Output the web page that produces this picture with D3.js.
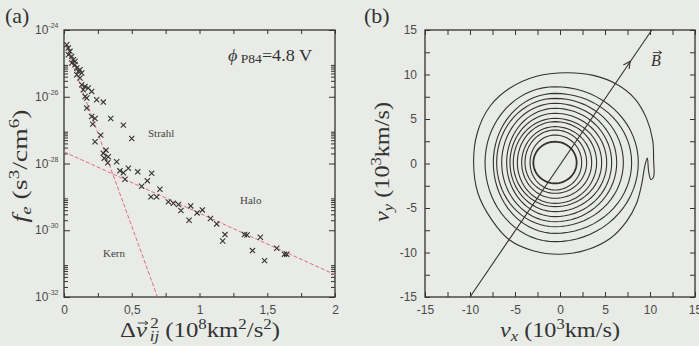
<!DOCTYPE html>
<html>
<head>
<meta charset="utf-8">
<script src="https://cdn.jsdelivr.net/npm/d3@7"></script>
<style>
body { margin: 0; background: #e8ebe6; }
svg { display: block; }
</style>
</head>
<body>
<script>
// ---- panel (a): f_e against delta v^2 ----
var dv2 = [0.020, 0.032, 0.044, 0.032, 0.057, 0.069, 0.081, 0.057, 0.081, 0.094,
    0.118, 0.106, 0.131, 0.094, 0.118, 0.131, 0.155, 0.179, 0.142, 0.204,
    0.155, 0.168, 0.241, 0.290, 0.168, 0.204, 0.229, 0.212, 0.345, 0.438,
    0.271, 0.500, 0.229, 0.310, 0.290, 0.327, 0.297, 0.323, 0.389, 0.413,
    0.475, 0.438, 0.544, 0.647, 0.450, 0.615, 0.573, 0.708, 0.642, 0.684,
    0.770, 0.807, 0.845, 0.863, 0.935, 0.923, 0.982, 1.021, 1.081, 1.127,
    1.188, 1.171, 1.332, 1.351, 1.449, 1.391, 1.570, 1.480, 1.627, 1.644];
var logFe = [-24.44, -24.54, -24.64, -24.74, -24.79, -24.89, -24.94, -24.99, -25.04, -25.14,
    -25.19, -25.24, -25.29, -25.34, -25.44, -25.64, -25.69, -25.74, -25.79, -25.84,
    -25.99, -26.04, -26.09, -26.16, -26.34, -26.59, -26.65, -26.82, -26.65, -26.85,
    -27.15, -27.25, -27.35, -27.60, -27.69, -27.80, -27.84, -27.98, -27.95, -28.22,
    -28.14, -28.28, -28.25, -28.29, -28.47, -28.52, -28.68, -28.77, -29.00, -29.00,
    -29.15, -29.19, -29.23, -29.41, -29.27, -29.70, -29.48, -29.39, -29.65, -29.81,
    -30.13, -30.32, -30.13, -30.14, -30.21, -30.61, -30.54, -30.91, -30.72, -30.72];
var kernX = [0, 0.69], kernLog = [-24.3, -32];
var haloX = [0, 2], haloLog = [-27.65, -31.33];
var xTicksA = [0, 0.5, 1, 1.5, 2];
var xMinorA = [0.25, 0.75, 1.25, 1.75];
var yExpA = [-24, -26, -28, -30, -32];
var yMinorMant = [2, 3, 4, 5, 6, 7, 8, 9];
var yMinorExp = [-26, -28, -30, -32];

// ---- panel (b): contours of the velocity distribution ----
var outerVx = [0.7, 3.7, 6.3, 8.3, 9.6, 10.3, 10.4, 10.4, 10.1, 9.85, 9.7, 9.4, 9.1, 8.5,
    7.4, 5.6, 3.0, 0, -3.0, -5.6, -7.6, -9.1, -9.6, -9.2, -7.8, -5.6, -2.6];
var outerVy = [10.2, 9.9, 8.9, 7.3, 5.1, 2.6, 0.4, -1.5, -1.8, -0.9, 0.6, -0.4, -2.2, -4.5,
    -6.5, -8.4, -9.7, -10.2, -9.8, -8.6, -6.3, -3.4, 0, 3.4, 6.4, 8.45, 9.8];
var contLeft = [-8.33, -7.41, -7.04, -6.48, -5.93, -5.56, -5.19, -4.74, -4.26, -3.89, -3.33, -2.96];
var contRight = [8.7, 7.96, 7.04, 6.3, 5.74, 5.19, 4.63, 4.07, 3.52, 2.96, 2.41, 1.85];
var contTop = [8.63, 7.88, 7.32, 6.76, 6.2, 5.64, 5.07, 4.7, 4.14, 3.76, 3.2, 2.45];
var contBottom = [-8.78, -7.85, -7.1, -6.54, -5.97, -5.41, -4.85, -4.48, -3.91, -3.35, -2.98, -2.23];
var contCenter = [-0.55, 0.1];
var bLineX = [-10, 10.2], bLineY = [-15, 15];
var bArrow = [7.8, 11.5];
var vTicks = [-15, -10, -5, 0, 5, 10, 15];
var vMinor = [-12.5, -7.5, -2.5, 2.5, 7.5, 12.5];

var W = 699, H = 346;
var ink = "#333";
var tickFont = "'Liberation Sans', Arial, sans-serif";
var serif = "'Liberation Serif', 'DejaVu Serif', serif";

var svg = d3.select("body").append("svg")
    .attr("width", W).attr("height", H);

function richText(sel, parts) {
    parts.forEach(function (p) {
        var t = sel.append("tspan").text(p.t);
        if (p.dy) t.attr("dy", p.dy);
        if (p.dx) t.attr("dx", p.dx);
        if (p.size) t.style("font-size", p.size + "px");
        if (p.italic) t.style("font-style", "italic");
    });
    return sel;
}

// small vector arrow over character i of a text element
function vecArrow(g, textSel, i, lift) {
    var n = textSel.node();
    var a = n.getStartPositionOfChar(i), b = n.getEndPositionOfChar(i);
    var x0 = a.x + 2, x1 = b.x + 1, y = a.y - lift;
    g.append("path").attr("d", "M" + x0 + "," + y + "L" + x1 + "," + y +
        "M" + (x1 - 3) + "," + (y - 2) + "L" + x1 + "," + y + "L" + (x1 - 3) + "," + (y + 2))
        .attr("fill", "none").attr("stroke", ink).attr("stroke-width", 0.9);
}

function tickAxis(g, axis, tx, ty) {
    var a = g.append("g").attr("transform", "translate(" + tx + "," + ty + ")").call(axis);
    a.select(".domain").remove();
    a.selectAll("line").attr("stroke", ink).attr("stroke-width", 1);
    a.selectAll("text").attr("fill", "#4a4a4a").style("font-family", tickFont).style("font-size", "12px");
    return a;
}

// ================= panel (a) =================
var ax0 = 64, ax1 = 335, ay0 = 30, ay1 = 297;
var xA = d3.scaleLinear().domain([0, 2]).range([ax0, ax1]);
var yA = d3.scaleLog().domain([1e-32, 1e-24]).range([ay1, ay0]);

var gA = svg.append("g");

var xAll = xTicksA.concat(xMinorA);
tickAxis(gA, d3.axisBottom(xA).tickValues(xAll).tickSize(-4).tickPadding(8)
    .tickFormat(function (d) { return xTicksA.indexOf(d) >= 0 ? String(d).replace(".", ",") : ""; }), 0, ay1);
tickAxis(gA, d3.axisTop(xA).tickValues(xAll).tickSize(-4).tickFormat(""), 0, ay0);

var yMaj = yExpA.map(function (e) { return Math.pow(10, e); });
var yMin = [];
yMinorExp.forEach(function (e) { yMinorMant.forEach(function (m) { yMin.push(m * Math.pow(10, e)); }); });
tickAxis(gA, d3.axisLeft(yA).tickValues(yMaj).tickSize(-6).tickFormat(""), ax0, 0);
tickAxis(gA, d3.axisLeft(yA).tickValues(yMin).tickSize(-4).tickFormat(""), ax0, 0);
tickAxis(gA, d3.axisRight(yA).tickValues(yMaj).tickSize(-6).tickFormat(""), ax1, 0);
tickAxis(gA, d3.axisRight(yA).tickValues(yMin).tickSize(-4).tickFormat(""), ax1, 0);

yExpA.forEach(function (e) {
    var t = gA.append("text").attr("x", 35).attr("y", yA(Math.pow(10, e)) + 4)
        .attr("fill", "#4a4a4a").style("font-family", tickFont).style("font-size", "12px");
    richText(t, [{ t: "10" }, { t: "-" + Math.abs(e), dy: -6, size: 7 }]);
});

gA.append("rect").attr("x", ax0).attr("y", ay0).attr("width", ax1 - ax0).attr("height", ay1 - ay0)
    .attr("fill", "none").attr("stroke", ink).attr("stroke-width", 1.3);

svg.append("clipPath").attr("id", "clipA").append("rect")
    .attr("x", ax0).attr("y", ay0).attr("width", ax1 - ax0).attr("height", ay1 - ay0);

var fitLine = d3.line().x(function (d) { return xA(d[0]); }).y(function (d) { return yA(Math.pow(10, d[1])); });
[[kernX, kernLog], [haloX, haloLog]].forEach(function (f) {
    gA.append("path").attr("clip-path", "url(#clipA)")
        .attr("d", fitLine(f[0].map(function (x, i) { return [x, f[1][i]]; })))
        .attr("fill", "none").attr("stroke", "#e36a80").attr("stroke-width", 1)
        .attr("stroke-dasharray", "4,2");
});

gA.selectAll(".pt").data(dv2).enter().append("path")
    .attr("transform", function (d, i) { return "translate(" + xA(d) + "," + yA(Math.pow(10, logFe[i])) + ")"; })
    .attr("d", "M-2.6,-2.6L2.6,2.6M-2.6,2.6L2.6,-2.6")
    .attr("stroke", ink).attr("stroke-width", 1.1);

gA.append("text").attr("x", 5).attr("y", 23).attr("fill", ink)
    .style("font-family", serif).style("font-size", "22px").text("(a)");

var phi = gA.append("text").attr("x", 228).attr("y", 61).attr("fill", ink)
    .attr("textLength", 84).attr("lengthAdjust", "spacingAndGlyphs")
    .style("font-family", serif).style("font-size", "16px");
richText(phi, [{ t: "ϕ", italic: true }, { t: " P84", size: 12, dy: 2 }, { t: "=4.8 V", dy: -2 }]);

[["Strahl", 148, 137], ["Halo", 240, 204], ["Kern", 103, 257]].forEach(function (l) {
    gA.append("text").attr("x", l[1]).attr("y", l[2]).attr("fill", "#444")
        .style("font-family", serif).style("font-size", "11px").text(l[0]);
});

var ytA = gA.append("text").attr("transform", "translate(27,166) rotate(-90)")
    .attr("text-anchor", "middle").attr("fill", ink)
    .attr("textLength", 113).attr("lengthAdjust", "spacingAndGlyphs")
    .style("font-family", serif).style("font-size", "22px");
richText(ytA, [{ t: "f", italic: true }, { t: "e", italic: true, size: 15, dy: 4 },
    { t: " (s", dy: -4 }, { t: "3", size: 15, dy: -8 }, { t: "/cm", dy: 8 }, { t: "6", size: 15, dy: -8 }, { t: ")", dy: 8 }]);

var xtA = gA.append("text").attr("x", 120).attr("y", 337).attr("fill", ink)
    .attr("textLength", 160).attr("lengthAdjust", "spacingAndGlyphs")
    .style("font-family", serif).style("font-size", "22px");
richText(xtA, [{ t: "Δ" }, { t: "v", italic: true }, { t: "2", size: 15, dy: -9, dx: 3 },
    { t: "ij", italic: true, size: 15, dx: -8, dy: 13 }, { t: " (10", dy: -4 }, { t: "8", size: 15, dy: -8 },
    { t: "km", dy: 8 }, { t: "2", size: 15, dy: -8 }, { t: "/s", dy: 8 }, { t: "2", size: 15, dy: -8 }, { t: ")", dy: 8 }]);
vecArrow(gA, xtA, 1, 14);

// ================= panel (b) =================
var bx0 = 425, bx1 = 695, by0 = 30, by1 = 297;
var xB = d3.scaleLinear().domain([-15, 15]).range([bx0, bx1]);
var yB = d3.scaleLinear().domain([-15, 15]).range([by1, by0]);
var gB = svg.append("g");

var vAll = vTicks.concat(vMinor);
tickAxis(gB, d3.axisBottom(xB).tickValues(vAll).tickSize(-5).tickPadding(8)
    .tickFormat(function (d) { return vTicks.indexOf(d) >= 0 ? d : ""; }), 0, by1);
tickAxis(gB, d3.axisTop(xB).tickValues(vAll).tickSize(-5).tickFormat(""), 0, by0);
tickAxis(gB, d3.axisLeft(yB).tickValues(vAll).tickSize(-5).tickPadding(8)
    .tickFormat(function (d) { return vTicks.indexOf(d) >= 0 ? d : ""; }), bx0, 0);
tickAxis(gB, d3.axisRight(yB).tickValues(vAll).tickSize(-5).tickFormat(""), bx1, 0);

gB.append("rect").attr("x", bx0).attr("y", by0).attr("width", bx1 - bx0).attr("height", by1 - by0)
    .attr("fill", "none").attr("stroke", ink).attr("stroke-width", 1.3);

var cLine = d3.line().x(function (d) { return xB(d[0]); }).y(function (d) { return yB(d[1]); });

gB.append("path")
    .attr("d", cLine.curve(d3.curveCatmullRomClosed.alpha(0.5))(outerVx.map(function (x, i) { return [x, outerVy[i]]; })))
    .attr("fill", "none").attr("stroke", ink).attr("stroke-width", 1.1);

var angles = d3.range(0, 72).map(function (i) { return i * Math.PI * 2 / 72; });
contLeft.forEach(function (l, k) {
    var cx = contCenter[0], cy = contCenter[1];
    var pts = angles.map(function (a) {
        var c = Math.cos(a), s = Math.sin(a);
        var rx = c >= 0 ? contRight[k] - cx : cx - l;
        var ry = s >= 0 ? contTop[k] - cy : cy - contBottom[k];
        return [cx + rx * c, cy + ry * s];
    });
    var last = k === contLeft.length - 1;
    gB.append("path").attr("d", cLine.curve(d3.curveLinearClosed)(pts))
        .attr("fill", "none").attr("stroke", ink).attr("stroke-width", last ? 1.8 : 1.1);
});

gB.append("path").attr("d", cLine.curve(d3.curveLinear)([[bLineX[0], bLineY[0]], [bLineX[1], bLineY[1]]]))
    .attr("stroke", ink).attr("stroke-width", 1.1).attr("fill", "none");
var ang = Math.atan2(yB(bLineY[1]) - yB(bLineY[0]), xB(bLineX[1]) - xB(bLineX[0])) * 180 / Math.PI;
gB.append("path").attr("transform", "translate(" + xB(bArrow[0]) + "," + yB(bArrow[1]) + ") rotate(" + ang + ")")
    .attr("d", "M-7,-3.5L0,0L-7,3.5").attr("fill", "none").attr("stroke", ink).attr("stroke-width", 1.1);

var bLab = gB.append("text").attr("x", xB(10.1)).attr("y", yB(11.0)).attr("fill", ink)
    .style("font-family", serif).style("font-size", "16px").style("font-style", "italic")
    .text("B");
vecArrow(gB, bLab, 0, 13);

gB.append("text").attr("x", 364).attr("y", 23).attr("fill", ink)
    .style("font-family", serif).style("font-size", "22px").text("(b)");

var ytB = gB.append("text").attr("transform", "translate(389,162) rotate(-90)")
    .attr("text-anchor", "middle").attr("fill", ink)
    .attr("textLength", 120).attr("lengthAdjust", "spacingAndGlyphs")
    .style("font-family", serif).style("font-size", "22px");
richText(ytB, [{ t: "v", italic: true }, { t: "y", italic: true, size: 15, dy: 4 },
    { t: " (10", dy: -4 }, { t: "3", size: 15, dy: -8 }, { t: "km/s)", dy: 8 }]);

var xtB = gB.append("text").attr("x", 560).attr("y", 337)
    .attr("text-anchor", "middle").attr("fill", ink)
    .attr("textLength", 120).attr("lengthAdjust", "spacingAndGlyphs")
    .style("font-family", serif).style("font-size", "22px");
richText(xtB, [{ t: "v", italic: true }, { t: "x", italic: true, size: 15, dy: 4 },
    { t: " (10", dy: -4 }, { t: "3", size: 15, dy: -8 }, { t: "km/s)", dy: 8 }]);
</script>
</body>
</html>
